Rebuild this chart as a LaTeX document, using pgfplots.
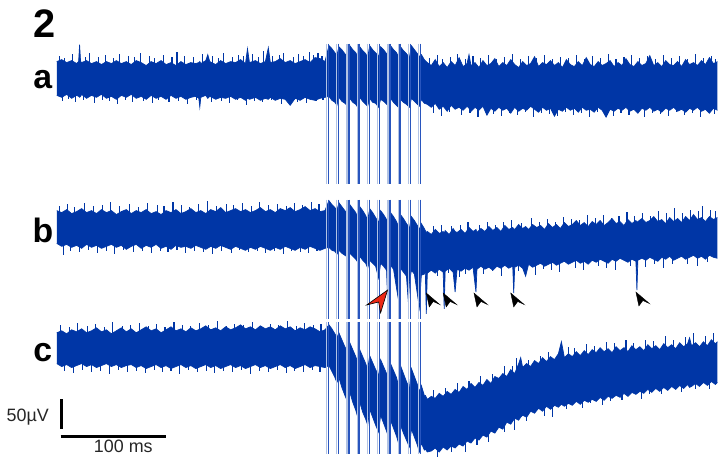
\documentclass[border=0pt]{standalone}
\usepackage{pgfplots}
\pgfplotsset{compat=1.18}
\usepackage{pgfplotstable}
\usepgfplotslibrary{fillbetween}
\usepackage{fontspec}
\setmainfont{Liberation Sans}
\definecolor{tr}{RGB}{0,54,166}
\definecolor{art}{RGB}{40,85,190}
\definecolor{redarr}{RGB}{235,40,20}

\pgfplotstableread{
x top bot
55 62 96
60 60 98
65 63 95
70 61 99
75 64 96
77 62 97
78 45 98
79 62 97
80 63 95
85 61 99
90 64 96
95 62 98
100 65 95
105 62 99
110 64 97
115 61 100
120 64 96
125 62 98
130 65 95
135 61 99
140 63 97
145 66 100
150 62 96
155 64 99
160 61 97
165 65 100
170 63 96
175 66 99
180 62 97
185 65 100
190 63 98
195 64 97
198 63 99
199 62 108
200 64 98
205 61 96
207 55 99
209 62 97
215 65 100
220 61 98
225 64 99
230 62 97
235 63 100
240 60 98
245 64 101
247 49 99
249 63 100
255 61 98
260 64 101
265 62 99
268 48 100
270 63 98
275 62 101
280 59 99
285 63 100
290 61 106
295 64 99
300 62 101
305 60 98
310 63 100
315 58 101
320 59 99
325 62 98
329 46 97
332 49 101
335 53 103
337 56 106
339 47 98
342 50 102
345 54 104
348 57 107
350 46 99
353 50 103
356 53 105
358 57 108
360 47 98
363 51 102
366 54 105
368 58 107
370 46 99
373 50 103
376 53 104
379 57 108
381 47 100
384 50 102
387 54 105
389 57 107
391 46 99
394 50 103
397 53 106
399 57 108
401 47 100
404 51 103
407 54 105
410 58 108
412 46 99
415 50 102
418 54 105
420 57 107
422 55 100
425 60 104
428 63 105
432 66 108
436 60 104
440 67 110
444 63 107
448 68 112
452 62 106
456 66 110
460 58 108
464 67 111
468 64 107
470 55 109
472 66 112
476 63 108
480 68 111
484 61 107
488 66 116
492 64 109
496 59 112
500 67 108
504 63 111
508 66 109
512 60 114
516 65 108
520 68 112
524 62 109
528 66 111
532 64 107
536 57 110
540 67 113
544 63 108
548 65 111
552 61 109
556 66 117
560 63 110
564 68 112
568 60 108
572 65 111
576 67 109
580 62 113
584 66 108
588 58 111
592 65 110
596 67 113
600 62 108
604 66 111
608 64 118
612 61 110
616 67 112
620 63 109
624 66 111
628 59 108
632 65 112
636 67 110
640 62 114
644 66 109
648 64 111
652 56 108
656 66 112
660 63 110
664 67 113
668 61 109
672 65 111
676 66 108
680 62 112
684 67 110
688 60 113
692 65 109
696 63 111
700 66 108
704 61 112
708 65 110
712 58 114
716 64 109
720 62 111
}\tracea

\pgfplotstableread{
x y ep em
58 66 0 10
63 66 0 8
71 66 0 12
84 66 0 9
88 66 0 13
97 66 0 9
104 66 0 11
112 66 0 8
118 66 0 12
127 66 0 10
133 66 0 9
139 66 0 13
148 66 0 10
153 66 0 8
162 66 0 11
171 66 0 9
176 66 0 14
184 66 0 10
193 66 0 9
202 66 0 12
212 66 0 10
218 66 0 8
223 66 0 13
232 66 0 9
238 66 0 11
243 66 0 10
252 66 0 12
258 66 0 9
263 66 0 15
272 66 0 10
279 66 0 11
283 66 0 13
293 66 0 9
298 66 0 12
303 66 0 10
309 66 0 14
313 66 0 11
318 66 0 13
322 66 0 10
61 94 8 0
67 94 6 0
74 94 9 0
82 94 7 0
93 94 10 0
101 94 7 0
108 94 8 0
116 94 11 0
124 94 7 0
131 94 9 0
142 94 8 0
151 94 10 0
157 94 7 0
168 94 9 0
178 94 8 0
187 94 11 0
196 94 7 0
211 94 9 0
221 94 8 0
229 94 10 0
237 94 7 0
246 94 12 0
254 94 8 0
262 94 9 0
271 94 7 0
281 94 11 0
288 94 8 0
297 94 9 0
306 94 10 0
316 94 8 0
323 94 7 0
430 68 0 10
438 68 0 13
443 68 0 9
451 68 0 11
458 68 0 14
466 68 0 9
474 68 0 12
482 68 0 10
490 68 0 13
498 68 0 9
506 68 0 11
514 68 0 14
522 68 0 9
530 68 0 12
538 68 0 10
546 68 0 13
554 68 0 9
562 68 0 11
570 68 0 10
578 68 0 13
586 68 0 9
594 68 0 12
602 68 0 10
610 68 0 14
618 68 0 9
626 68 0 11
634 68 0 13
642 68 0 10
650 68 0 12
658 68 0 9
666 68 0 13
674 68 0 10
682 68 0 12
690 68 0 9
698 68 0 14
706 68 0 10
714 68 0 12
718 68 0 9
434 106 8 0
442 106 11 0
450 106 7 0
462 106 10 0
471 106 8 0
479 106 12 0
487 106 7 0
495 106 9 0
503 106 11 0
511 106 8 0
519 106 10 0
527 106 7 0
535 106 12 0
543 106 8 0
551 106 9 0
559 106 11 0
567 106 7 0
575 106 10 0
583 106 8 0
591 106 12 0
599 106 7 0
607 106 9 0
615 106 11 0
623 106 8 0
631 106 10 0
639 106 7 0
647 106 12 0
655 106 8 0
663 106 9 0
671 106 11 0
679 106 7 0
687 106 10 0
695 106 8 0
703 106 12 0
711 106 7 0
717 106 9 0
}\spikesa

\pgfplotstableread{
x top bot
55 212 245
60 214 248
65 211 246
70 215 249
75 213 247
80 210 250
85 214 246
90 212 249
95 215 247
100 211 250
105 214 248
110 212 246
115 216 249
120 213 247
125 211 251
130 215 248
135 212 246
140 214 250
145 211 247
150 215 249
155 213 246
160 216 250
165 212 248
170 214 251
175 211 247
180 215 249
185 213 248
190 210 250
195 214 247
200 212 249
205 215 251
210 211 248
215 213 250
220 209 247
225 214 249
230 212 251
235 210 248
240 213 250
245 211 252
250 214 249
255 212 251
260 209 248
265 213 250
270 211 252
275 214 249
280 210 251
285 212 248
290 209 250
295 213 252
300 211 249
305 208 251
310 212 248
315 210 250
320 213 252
325 212 250
329 202 249
332 206 252
335 209 253
337 212 256
339 204 252
342 208 255
345 212 257
348 216 259
350 206 255
353 210 258
356 214 261
358 219 264
360 208 258
363 212 262
366 217 265
368 222 270
370 210 262
373 214 265
376 219 268
379 224 280
381 212 265
384 216 268
387 221 272
388 224 300
389 226 276
391 214 267
394 218 271
397 223 290
399 228 302
401 216 270
404 220 274
407 225 278
409 228 305
410 230 285
412 218 272
415 222 276
418 227 296
420 231 310
422 225 277
425 230 276
426 232 274
427 234 316
428 233 275
432 236 272
436 231 275
440 235 271
444 233 274
445 235 311
446 232 273
450 236 270
454 230 274
456 233 294
458 234 271
462 231 273
466 235 270
470 229 272
474 233 269
477 231 294
478 234 271
482 230 268
486 233 271
490 228 269
494 232 272
498 229 268
502 233 270
506 227 267
510 231 270
514 229 268
515 230 295
516 231 269
520 226 267
524 230 270
527 228 278
530 231 266
534 226 269
538 229 267
542 227 265
546 231 268
550 225 266
554 229 264
558 226 267
562 230 265
566 224 263
570 228 266
574 226 264
578 222 262
582 227 265
586 224 263
590 228 266
594 223 262
598 226 264
602 222 261
606 227 263
610 224 265
614 220 261
618 225 263
622 223 260
626 227 262
630 221 264
634 225 261
638 222 263
639 224 292
640 223 262
644 220 260
648 224 262
652 222 259
656 218 261
660 223 263
664 221 259
668 225 261
672 219 258
676 223 262
680 220 260
684 224 258
688 218 261
692 222 259
696 216 257
700 221 260
704 219 258
708 223 261
712 218 257
716 221 259
720 219 260
}\traceb

\pgfplotstableread{
x y ep em
58 215 0 8
66 215 0 10
73 215 0 7
83 215 0 11
92 215 0 8
101 215 0 9
109 215 0 12
118 215 0 8
128 215 0 10
137 215 0 7
146 215 0 11
156 215 0 9
163 215 0 8
172 215 0 12
181 215 0 9
189 215 0 7
198 215 0 10
207 215 0 13
216 215 0 8
226 215 0 10
233 215 0 9
242 215 0 11
251 215 0 8
259 215 0 12
268 215 0 9
277 215 0 10
286 215 0 8
294 215 0 11
302 215 0 9
311 215 0 12
319 215 0 10
62 246 11 0
69 246 7 0
78 246 8 0
87 246 6 0
96 246 9 0
105 246 7 0
113 246 10 0
122 246 6 0
132 246 8 0
141 246 7 0
150 246 9 0
159 246 7 0
167 246 8 0
176 246 6 0
185 246 9 0
194 246 7 0
203 246 8 0
212 246 10 0
221 246 7 0
231 246 9 0
239 246 6 0
248 246 8 0
257 246 7 0
265 246 9 0
274 246 7 0
283 246 10 0
291 246 7 0
300 246 8 0
308 246 9 0
317 246 7 0
434 236 0 8
442 236 0 10
452 235 0 7
461 235 0 9
469 234 0 11
481 234 0 8
489 233 0 10
497 233 0 7
505 232 0 9
513 232 0 11
523 232 0 8
533 231 0 12
541 231 0 8
549 230 0 10
557 230 0 7
565 229 0 11
573 229 0 9
581 229 0 8
589 228 0 12
597 228 0 9
605 227 0 11
613 227 0 8
621 227 0 10
629 226 0 13
637 226 0 9
645 225 0 11
653 225 0 8
661 224 0 12
669 224 0 10
677 224 0 15
685 223 0 9
693 223 0 12
701 222 0 10
705 222 0 15
713 222 0 11
718 221 0 9
438 269 9 0
449 268 7 0
460 268 11 0
466 268 8 0
485 266 10 0
494 266 7 0
503 266 12 0
520 265 8 0
537 264 13 0
545 264 7 0
553 263 9 0
561 263 11 0
577 262 8 0
585 262 10 0
600 261 7 0
608 261 9 0
617 261 11 0
633 260 8 0
648 259 10 0
657 259 7 0
666 258 12 0
675 258 8 0
690 257 9 0
700 257 11 0
710 256 8 0
}\spikesb

\pgfplotstableread{
x top bot
55 335 366
60 333 369
65 336 367
70 332 370
75 334 368
80 331 366
85 335 369
90 333 367
95 330 370
100 334 368
105 332 366
110 336 369
115 333 367
120 330 370
125 334 368
130 331 367
135 335 370
140 332 368
145 329 371
150 333 369
155 331 367
160 335 370
165 332 368
170 329 371
175 333 369
180 331 367
185 334 370
190 330 368
195 333 371
200 331 369
205 328 367
210 332 370
215 330 368
220 333 371
225 329 369
230 332 367
235 330 370
240 327 368
245 331 371
250 329 369
255 332 367
260 328 370
265 331 368
270 329 371
275 332 369
280 328 367
285 331 370
290 329 368
295 333 371
300 330 369
305 332 367
310 329 370
315 331 368
320 334 369
325 332 370
329 327 368
332 331 374
335 336 380
337 340 385
339 335 380
342 342 390
345 349 398
348 355 405
350 345 395
353 352 405
356 359 413
358 365 420
360 352 405
363 359 415
366 366 422
368 372 428
370 358 412
373 365 420
376 372 428
379 378 435
381 362 418
384 369 426
387 376 434
389 383 440
391 366 423
394 373 431
397 380 439
399 388 446
401 368 428
404 376 436
407 384 443
410 391 450
412 371 432
415 379 440
418 387 448
420 394 455
422 388 446
425 398 453
426 398 452
428 402 455
432 399 454
436 401 451
440 396 455
444 399 450
448 394 453
452 397 449
456 392 451
460 395 447
464 389 449
468 392 444
472 386 446
476 390 441
480 385 443
484 388 438
488 382 440
492 386 434
496 379 436
500 381 430
504 376 432
508 379 425
512 372 427
516 376 421
520 366 423
522 360 420
524 370 418
528 366 420
532 369 414
536 363 416
540 366 411
544 360 414
548 364 409
552 359 412
556 362 408
560 356 410
563 344 407
566 360 409
570 356 406
574 359 408
578 354 404
582 358 407
586 353 403
590 357 405
594 352 402
598 355 404
602 350 400
606 354 403
610 351 399
614 355 401
618 349 398
622 353 400
626 350 396
630 354 399
634 348 395
638 352 397
642 349 394
646 353 396
650 347 392
654 351 395
658 348 391
662 352 394
666 346 390
670 350 393
674 347 389
678 351 392
682 345 388
686 349 391
690 346 387
692 340 390
694 348 389
698 345 386
702 349 389
706 344 385
710 348 388
714 342 384
718 346 387
720 344 385
}\tracec

\pgfplotstableread{
x y ep em
59 335 0 8
68 335 0 6
76 335 0 10
86 335 0 7
94 335 0 9
103 335 0 6
111 335 0 11
121 335 0 7
129 335 0 8
138 335 0 10
147 335 0 7
155 335 0 9
164 335 0 6
173 335 0 11
182 335 0 8
190 335 0 7
199 335 0 10
208 335 0 8
217 335 0 12
226 335 0 7
234 335 0 9
243 335 0 8
252 335 0 11
261 335 0 7
270 335 0 9
278 335 0 8
287 335 0 12
296 335 0 7
304 335 0 10
313 335 0 8
321 335 0 9
63 366 7 0
72 366 9 0
81 366 6 0
90 366 8 0
99 366 7 0
108 366 10 0
117 366 6 0
126 366 8 0
135 366 7 0
144 366 9 0
153 366 6 0
161 366 8 0
170 366 7 0
179 366 10 0
188 366 6 0
197 366 8 0
206 366 7 0
214 366 9 0
223 366 7 0
232 366 8 0
241 366 6 0
250 366 10 0
259 366 7 0
268 366 8 0
277 366 6 0
286 366 9 0
294 366 7 0
303 366 8 0
312 366 6 0
320 366 8 0
434 402 0 9
446 399 0 8
458 396 0 10
470 392 0 8
482 389 0 11
494 385 0 9
506 380 0 12
514 376 0 8
518 375 0 15
530 371 0 9
542 368 0 10
550 366 0 12
570 360 0 11
576 359 0 9
588 358 0 12
596 356 0 8
608 355 0 11
616 354 0 9
628 354 0 12
636 353 0 8
648 353 0 11
656 352 0 9
668 351 0 13
676 350 0 8
688 350 0 11
696 349 0 14
708 348 0 10
716 347 0 12
438 451 9 0
452 448 7 0
466 445 10 0
478 440 8 0
490 434 11 0
506 426 9 0
516 421 12 0
528 416 8 0
546 409 10 0
554 407 13 0
568 404 8 0
584 401 10 0
592 399 7 0
604 397 11 0
612 396 8 0
624 394 9 0
644 391 11 0
652 390 7 0
664 388 9 0
684 385 10 0
698 384 8 0
712 383 9 0
}\spikesc

\pgfplotstableread{
x y
328.3 44
328.3 185
328.3 nan
338.7 44
338.7 185
338.7 nan
349.0 44
349.0 185
349.0 nan
359.3 44
359.3 185
359.3 nan
369.7 44
369.7 185
369.7 nan
380.0 44
380.0 185
380.0 nan
390.3 44
390.3 185
390.3 nan
400.7 44
400.7 185
400.7 nan
411.0 44
411.0 185
411.0 nan
421.3 44
421.3 185
421.3 nan
328.3 201
328.3 321
328.3 nan
338.7 201
338.7 321
338.7 nan
349.0 201
349.0 321
349.0 nan
359.3 201
359.3 321
359.3 nan
369.7 201
369.7 321
369.7 nan
380.0 201
380.0 321
380.0 nan
390.3 201
390.3 321
390.3 nan
400.7 201
400.7 321
400.7 nan
411.0 201
411.0 321
411.0 nan
421.3 201
421.3 321
421.3 nan
328.3 324
328.3 457
328.3 nan
338.7 324
338.7 457
338.7 nan
349.0 324
349.0 457
349.0 nan
359.3 324
359.3 457
359.3 nan
369.7 324
369.7 457
369.7 nan
380.0 324
380.0 457
380.0 nan
390.3 324
390.3 457
390.3 nan
400.7 324
400.7 457
400.7 nan
411.0 324
411.0 457
411.0 nan
421.3 324
421.3 457
}\artifacts

\pgfplotsset{spikes/.style={draw=none, mark=none, forget plot,
  error bars/.cd, y dir=both, y explicit, error mark=none,
  error bar style={draw=tr, line width=0.55pt, solid}}}

\begin{document}
\begin{tikzpicture}
\begin{axis}[
  width=361pt, height=230pt, scale only axis,
  xmin=0, xmax=722, ymin=0, ymax=460, y dir=reverse,
  axis lines=none, clip=false,
]
\path (rel axis cs:0,0) rectangle (rel axis cs:1,1);
% trace a
\addplot[name path=atop, draw=tr, line width=0.35pt] table[x=x,y=top] {\tracea};
\addplot[name path=abot, draw=tr, line width=0.35pt] table[x=x,y=bot] {\tracea};
\addplot[tr] fill between[of=atop and abot];
\addplot[spikes] table[x=x,y=y,y error plus=ep,y error minus=em] {\spikesa};
% trace b
\addplot[name path=btop, draw=tr, line width=0.35pt] table[x=x,y=top] {\traceb};
\addplot[name path=bbot, draw=tr, line width=0.35pt] table[x=x,y=bot] {\traceb};
\addplot[tr] fill between[of=btop and bbot];
\addplot[spikes] table[x=x,y=y,y error plus=ep,y error minus=em] {\spikesb};
% trace c
\addplot[name path=ctop, draw=tr, line width=0.35pt] table[x=x,y=top] {\tracec};
\addplot[name path=cbot, draw=tr, line width=0.35pt] table[x=x,y=bot] {\tracec};
\addplot[tr] fill between[of=ctop and cbot];
\addplot[spikes] table[x=x,y=y,y error plus=ep,y error minus=em] {\spikesc};
% stimulus artifacts: light gap, then the artifact line
\addplot[white!70!tr, line width=0.6pt, xshift=-0.9pt, unbounded coords=jump] table[x=x,y=y] {\artifacts};
\addplot[art, line width=0.7pt, unbounded coords=jump] table[x=x,y=y] {\artifacts};
% black arrowheads
\addplot[fill=black, draw=black, line width=0.2pt] coordinates {(427,295) (430,309) (434,303.5) (440.5,306.5)} -- cycle;
\addplot[fill=black, draw=black, line width=0.2pt] coordinates {(444,295) (447,309) (451,303.5) (457.5,306.5)} -- cycle;
\addplot[fill=black, draw=black, line width=0.2pt] coordinates {(475,295) (478,309) (482,303.5) (488.5,306.5)} -- cycle;
\addplot[fill=black, draw=black, line width=0.2pt] coordinates {(512,295) (515,309) (519,303.5) (525.5,306.5)} -- cycle;
\addplot[fill=black, draw=black, line width=0.2pt] coordinates {(638,294) (641,308) (645,302.5) (651.5,305.5)} -- cycle;
% red arrowhead
\addplot[fill=redarr, draw=black, line width=0.3pt] coordinates {(388,292) (367,307) (379,304) (381,315)} -- cycle;
% scale bar
\addplot[black, line width=1.5pt] coordinates {(60,402) (60,432)};
\addplot[black, line width=1.5pt] coordinates {(59,439) (165,439)};
\node[anchor=east, font=\fontsize{9}{10}\selectfont, text=black!85] at (axis cs:54,420) {50µV};
\node[anchor=center, font=\fontsize{9}{10}\selectfont, text=black!85] at (axis cs:122,449) {100 ms};
% panel labels
\node[anchor=base, font=\bfseries\fontsize{20}{22}\selectfont] at (axis cs:43,38) {2};
\node[anchor=base, font=\bfseries\fontsize{17}{19}\selectfont] at (axis cs:41,89) {a};
\node[anchor=base, font=\bfseries\fontsize{17}{19}\selectfont] at (axis cs:41,244) {b};
\node[anchor=base, font=\bfseries\fontsize{17}{19}\selectfont] at (axis cs:41,364) {c};
\end{axis}
\end{tikzpicture}
\end{document}
